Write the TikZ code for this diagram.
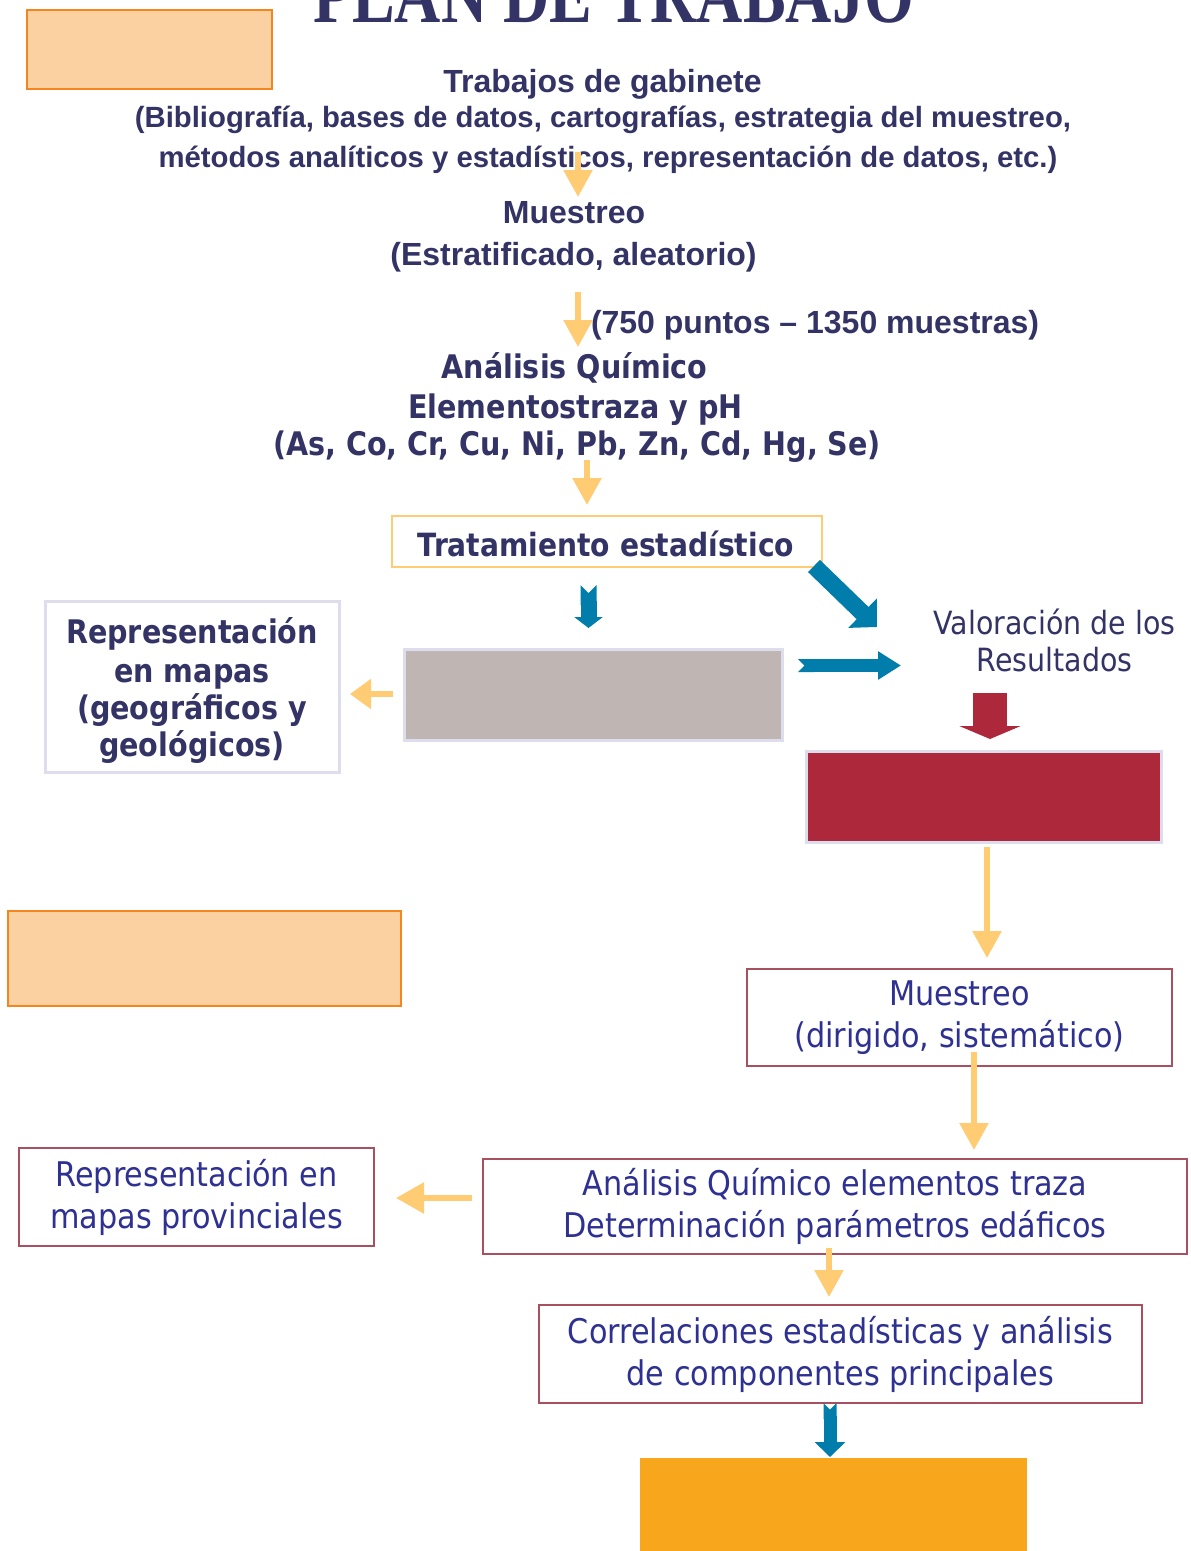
\documentclass[tikz,border=0pt]{standalone}
\usepackage{fontspec}
\usetikzlibrary{arrows.meta}
\newfontfamily\fTitle[FakeStretch=0.80]{Liberation Serif}
\newfontfamily\fAr{Liberation Sans}
\newfontfamily\fBd[FakeStretch=0.88]{DejaVu Sans}
\newfontfamily\fRg[FakeStretch=0.89]{DejaVu Sans}
\definecolor{navy}{RGB}{51,51,102}
\definecolor{tblue}{RGB}{46,49,146}
\definecolor{peach}{RGB}{251,209,162}
\definecolor{orangeB}{RGB}{245,134,31}
\definecolor{lorange}{RGB}{255,204,115}
\definecolor{lav}{RGB}{221,221,238}
\definecolor{maroon}{RGB}{168,80,95}
\definecolor{greyF}{RGB}{191,182,180}
\definecolor{redF}{RGB}{173,40,59}
\definecolor{bottomO}{RGB}{248,166,28}
\definecolor{blueA}{RGB}{0,125,170}
\tikzset{
  plain/.style={inner sep=0pt, outer sep=0pt},
  toptxt/.style={plain, text=navy, anchor=base, font=\fAr\bfseries\fontsize{32}{38}\selectfont},
  topsmall/.style={plain, text=navy, anchor=base, font=\fAr\bfseries\fontsize{29.3}{35}\selectfont},
  boldtxt/.style={plain, text=navy, anchor=base, font=\fBd\bfseries\fontsize{32.5}{38}\selectfont},
  valtxt/.style={plain, text=navy, anchor=base, font=\fRg\fontsize{32}{36}\selectfont},
  peachbox/.style={plain, fill=peach, draw=orangeB, line width=2.5pt},
  lavbox/.style={plain, draw=lav, line width=3pt, align=center},
  marbox/.style={plain, draw=maroon, line width=2.5pt, fill=white, align=center, text=tblue,
     font=\fRg\fontsize{34}{42}\selectfont},
  tratbox/.style={plain, draw=lorange, line width=2.5pt, fill=white},
  oarrow/.style={draw=lorange, line width=5.5pt, -{Triangle[width=28pt,length=27pt]}, lorange},
  barrow/.style={draw=blueA, blueA},
}
\begin{document}
\begin{tikzpicture}[x=1pt,y=-1pt]
\useasboundingbox (0,0) rectangle (1191,1551);
\clip (0,0) rectangle (1191,1551);
\fill[white] (0,0) rectangle (1191,1551);

% title (cut by the top edge, as in the reference)
\node[plain, text=navy, anchor=base, font=\fTitle\bfseries\fontsize{80}{90}\selectfont] (title) at (613.5,22) {PLAN DE TRABAJO};

% boxes
\node[peachbox, minimum width=245pt, minimum height=79pt] (pb1) at (149.5,49.5) {};
\node[peachbox, minimum width=393pt, minimum height=95pt] (pb2) at (204.5,958.5) {};
\node[plain, fill=bottomO, minimum width=387pt, minimum height=95pt] (ob) at (833.5,1505.5) {};

% top texts
\node[toptxt] (t1) at (602.5,92) {Trabajos de gabinete};
\node[topsmall] (t2) at (603,127) {(Bibliografía, bases de datos, cartografías, estrategia del muestreo,};
\node[topsmall] (t3) at (608,167) {métodos analíticos y estadísticos, representación de datos, etc.)};
\node[toptxt] (m1) at (574,223) {Muestreo};
\node[toptxt] (m2) at (573.5,265) {(Estratificado, aleatorio)};
\node[toptxt, anchor=base west] (pts) at (591,333) {(750 puntos – 1350 muestras)};
\node[boldtxt] (q1) at (574.5,378) {Análisis Químico};
\node[boldtxt] (q2) at (575.5,418) {Elementostraza y pH};
\node[boldtxt] (q3) at (577,455) {(As, Co, Cr, Cu, Ni, Pb, Zn, Cd, Hg, Se)};

\node[tratbox, minimum width=430pt, minimum height=51pt] (trat) at (607,541.5) {};
\node[plain, text=navy, anchor=base, font=\fBd\bfseries\fontsize{32}{38}\selectfont] (tratT) at (606,556) {Tratamiento estadístico};

\node[lavbox, minimum width=294pt, minimum height=171pt] (repr) at (192,686.5) {};
\node[boldtxt] (rA) at (192,643) {Representación};
\node[boldtxt] (rB) at (192,682) {en mapas};
\node[boldtxt] (rC) at (192,719) {(geográficos y};
\node[boldtxt] (rD) at (192,756) {geológicos)};

\node[lavbox, fill=greyF, minimum width=378pt, minimum height=91pt] (grey) at (593,694.5) {};
\node[valtxt] (val1) at (1054.5,634) {Valoración de los};
\node[valtxt] (val2) at (1054.5,671) {Resultados};
\node[lavbox, fill=redF, minimum width=355pt, minimum height=91pt] (red) at (983.5,796.5) {};

\node[marbox, minimum width=425pt, minimum height=97pt] (mu) at (959.5,1017.5) {Muestreo\\(dirigido, sistemático)};
\node[marbox, minimum width=355pt, minimum height=98pt] (rp) at (196.5,1197) {Representación en\\mapas provinciales};
\node[marbox, minimum width=704pt, minimum height=95pt] (an) at (835,1206.5) {Análisis Químico elementos traza\\Determinación parámetros edáficos};
\node[marbox, minimum width=603pt, minimum height=98pt] (co) at (840.5,1354) {Correlaciones estadísticas y análisis\\de componentes principales};

% arrow end points
\coordinate (a1s) at (578,152); \coordinate (a1e) at (578,197);
\coordinate (a2s) at (578,292); \coordinate (a2e) at (578,347);
\coordinate (a3s) at (587,460); \coordinate (a3e) at (587,505);
\coordinate (a4s) at (393,694); \coordinate (a4e) at (350,694);
\coordinate (a5s) at (987,847); \coordinate (a5e) at (987,958);
\coordinate (a6s) at (974,1052); \coordinate (a6e) at (974,1150);
\coordinate (a7s) at (472,1198); \coordinate (a7e) at (396,1198);
\coordinate (a8s) at (829,1248); \coordinate (a8e) at (829,1297);
\coordinate (b1s) at (588.5,585); \coordinate (b1e) at (588.5,628);
\coordinate (b2s) at (814,566); \coordinate (b2e) at (877,627);
\coordinate (b3s) at (798,665.5); \coordinate (b3e) at (901,665.5);
\coordinate (b4s) at (830,1403); \coordinate (b4e) at (830,1457);
\coordinate (r1s) at (990,693); \coordinate (r1e) at (990,739);

% orange arrows
\draw[oarrow] (a1s) -- (a1e);
\draw[oarrow] (a2s) -- (a2e);
\draw[oarrow] (a3s) -- (a3e);
\draw[oarrow, -{Triangle[width=29pt,length=21pt]}] (a4s) -- (a4e);
\draw[oarrow] (a5s) -- (a5e);
\draw[oarrow] (a6s) -- (a6e);
\draw[oarrow, -{Triangle[width=30pt,length=28pt]}] (a7s) -- (a7e);
\draw[oarrow] (a8s) -- (a8e);

% blue arrows
\draw[barrow, line width=16pt, {Triangle Cap[reversed]}-{Triangle[width=28pt,length=11pt]}] (b1s) -- (b1e);
\draw[barrow, line width=17pt, -{Triangle[width=40pt,length=20pt]}] (b2s) -- (b2e);
\draw[barrow, line width=13pt, {Triangle Cap[reversed]}-{Triangle[width=27pt,length=23pt]}] (b3s) -- (b3e);
\draw[barrow, line width=13pt, {Triangle Cap[reversed]}-{Triangle[width=30pt,length=15pt]}] (b4s) -- (b4e);

% red arrow
\draw[draw=redF, redF, line width=34pt, -{Triangle[width=61pt,length=13pt]}] (r1s) -- (r1e);
\end{tikzpicture}
\end{document}
